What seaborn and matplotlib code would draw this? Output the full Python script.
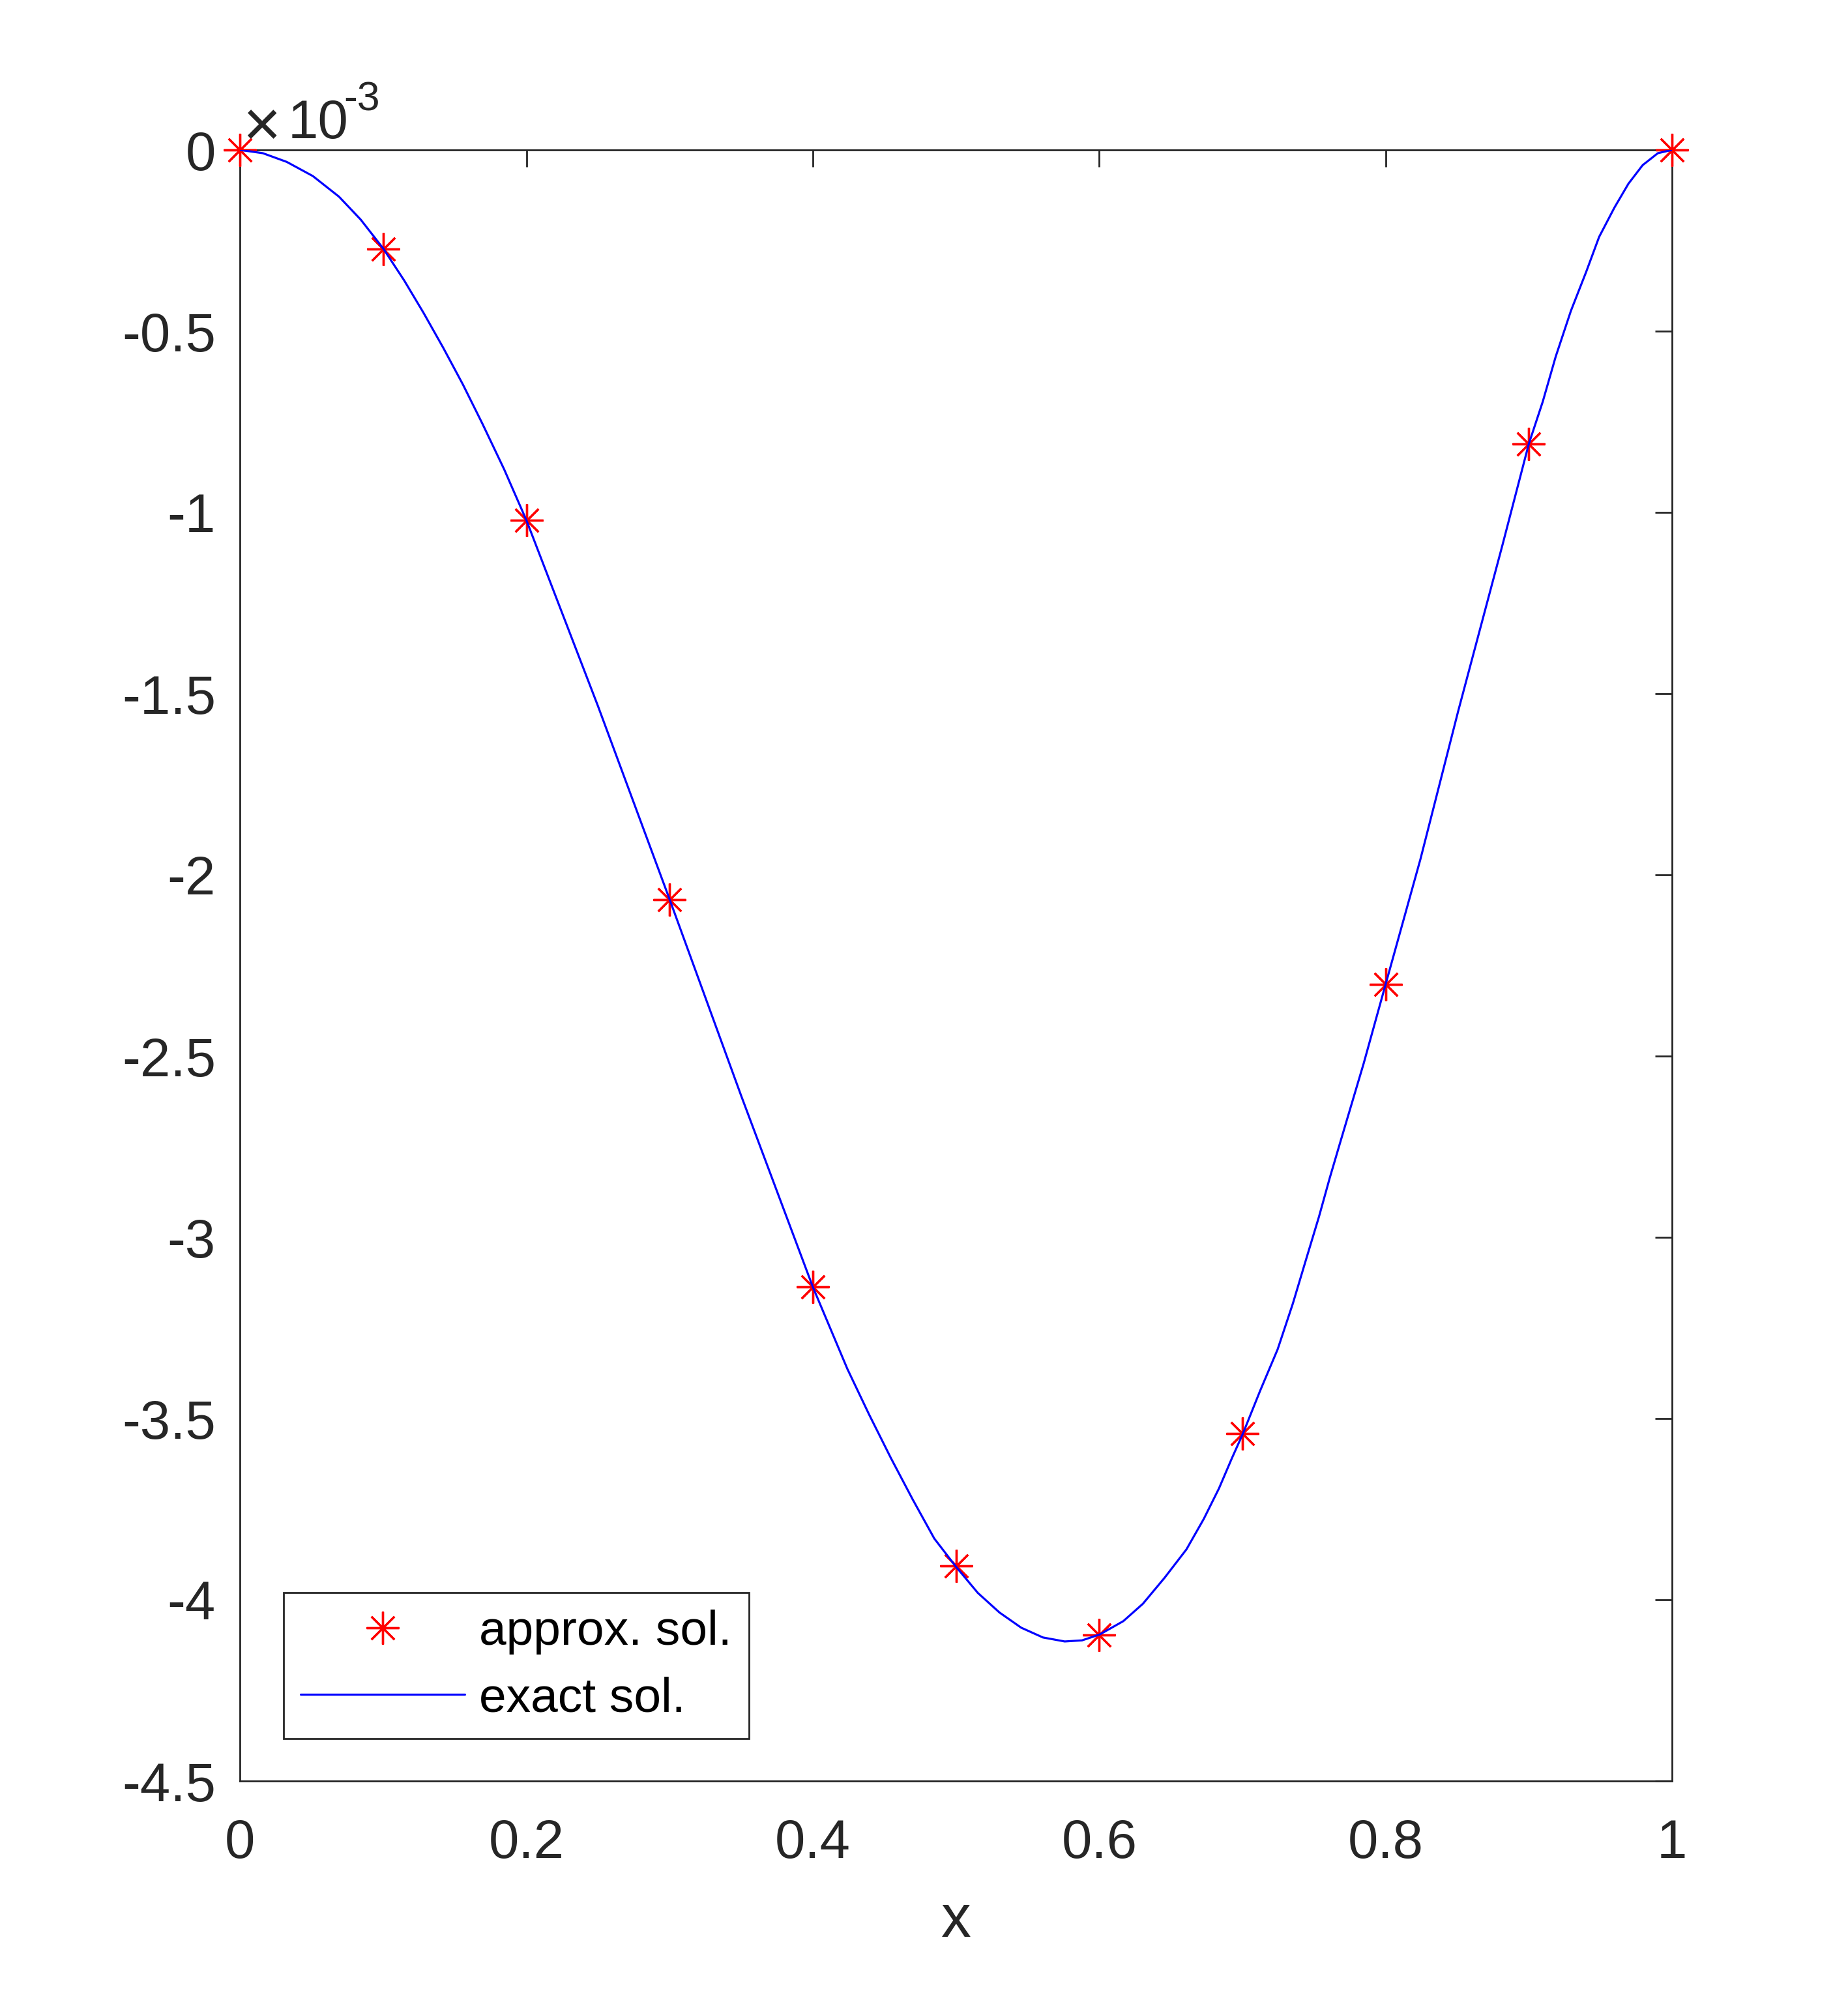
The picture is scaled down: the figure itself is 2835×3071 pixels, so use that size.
import matplotlib
matplotlib.use("Agg")
import matplotlib.pyplot as plt
import numpy as np
import pandas as pd
import seaborn as sns

# ---------------- data (y values in units of 1e-3) ----------------
approx_x = [0.0, 0.1, 0.2, 0.3, 0.4, 0.5, 0.6, 0.7, 0.8, 0.9, 1.0]
approx_y = [0.0, -0.273, -1.022, -2.068, -3.137, -3.907, -4.098, -3.542, -2.302, -0.811, 0.0]

exact_x = [0.0, 0.0159, 0.0326, 0.0508, 0.0691, 0.0842, 0.1, 0.1146, 0.1282, 0.1419,
           0.1556, 0.1692, 0.1844, 0.2, 0.25, 0.3, 0.35, 0.4, 0.4241, 0.4393,
           0.4545, 0.4697, 0.4848, 0.5, 0.5152, 0.5303, 0.5455, 0.5607, 0.5759, 0.5880,
           0.6002, 0.6168, 0.6305, 0.6457, 0.6609, 0.6730, 0.6836, 0.6927, 0.7003, 0.7124,
           0.7246, 0.7352, 0.7443, 0.7534, 0.7610, 0.7686, 0.7847, 0.8, 0.8243, 0.8507,
           0.8816, 0.9, 0.9097, 0.9188, 0.9294, 0.9401, 0.9491, 0.9598, 0.9696, 0.9795,
           0.9901, 1.0]
exact_y = [0.0, -0.009, -0.033, -0.072, -0.129, -0.192, -0.272, -0.360, -0.450, -0.546,
           -0.647, -0.755, -0.881, -1.022, -1.535, -2.068, -2.61, -3.137, -3.363, -3.489,
           -3.609, -3.723, -3.831, -3.909, -3.981, -4.035, -4.077, -4.104, -4.115, -4.112,
           -4.096, -4.059, -4.011, -3.939, -3.861, -3.777, -3.693, -3.609, -3.542, -3.423,
           -3.309, -3.183, -3.063, -2.944, -2.836, -2.734, -2.520, -2.302, -1.957, -1.548,
           -1.090, -0.811, -0.695, -0.570, -0.444, -0.336, -0.240, -0.159, -0.093, -0.042,
           -0.009, 0.0]

x_ticks = [0.0, 0.2, 0.4, 0.6, 0.8, 1.0]
x_tick_labels = ["0", "0.2", "0.4", "0.6", "0.8", "1"]
y_ticks = [0.0, -0.5, -1.0, -1.5, -2.0, -2.5, -3.0, -3.5, -4.0, -4.5]
y_tick_labels = ["0", "-0.5", "-1", "-1.5", "-2", "-2.5", "-3", "-3.5", "-4", "-4.5"]

legend_labels = ["approx. sol.", "exact sol."]
x_label = "x"
exponent_times = "\u00d7"
exponent_base = "10"
exponent_power = "-3"

# ---------------- style ----------------
sns.set_theme(style="white")
plt.rcParams["font.family"] = ["Liberation Sans", "DejaVu Sans"]
plt.rcParams["axes.unicode_minus"] = False

DARK = "#262626"

fig = plt.figure(figsize=(28.35, 30.71), dpi=100)
ax = fig.add_axes([368.3 / 2835, 1 - 2732 / 3071, (2565 - 368.3) / 2835, (2732 - 230) / 3071])

df_approx = pd.DataFrame({"x": approx_x, "y": approx_y})
df_exact = pd.DataFrame({"x": exact_x, "y": exact_y})

sns.lineplot(data=df_approx, x="x", y="y", ax=ax, linestyle="", marker=(8, 2, 0),
             markersize=36, markeredgewidth=2.4, markeredgecolor="#ff0000",
             color="#ff0000", label=legend_labels[0], errorbar=None, zorder=3,
             clip_on=False)
sns.lineplot(data=df_exact, x="x", y="y", ax=ax, color="#0000ff", linewidth=2.3,
             label=legend_labels[1], errorbar=None, zorder=4, sort=False)

ax.set_xlim(0, 1)
ax.set_ylim(-4.5, 0)
ax.set_xticks(x_ticks)
ax.set_xticklabels(x_tick_labels)
ax.set_yticks(y_ticks)
ax.set_yticklabels(y_tick_labels)

ax.tick_params(axis="both", direction="in", length=19, width=2.0, color=DARK,
               labelcolor=DARK, labelsize=60, top=True, right=True)
ax.tick_params(axis="x", pad=41)
ax.tick_params(axis="y", pad=27)
for sp in ax.spines.values():
    sp.set_color(DARK)
    sp.set_linewidth(2.0)
    sp.set_visible(True)

ax.set_xlabel(x_label, fontsize=66, color=DARK, labelpad=27)
ax.set_ylabel("")

ax.text(0.0150, 1.0024, exponent_times, transform=ax.transAxes, fontsize=72,
        color=DARK, ha="center", va="baseline")
ax.text(0.0334, 1.0073, exponent_base, transform=ax.transAxes, fontsize=60,
        color=DARK, ha="left", va="baseline")
ax.text(0.0724, 1.024, exponent_power, transform=ax.transAxes, fontsize=45,
        color=DARK, ha="left", va="baseline")

handles, labels = ax.get_legend_handles_labels()
leg = ax.legend(handles, labels, loc="lower left", bbox_to_anchor=(0.0302, 0.026),
                borderaxespad=0, fontsize=54, handlelength=3.36, handletextpad=0.3,
                borderpad=0.35, labelspacing=0.45, frameon=True, fancybox=False,
                edgecolor=DARK, framealpha=1, numpoints=1)
leg.get_frame().set_linewidth(2.0)
for t in leg.get_texts():
    t.set_color("black")

fig.savefig("out.png", dpi=100, facecolor="white")
